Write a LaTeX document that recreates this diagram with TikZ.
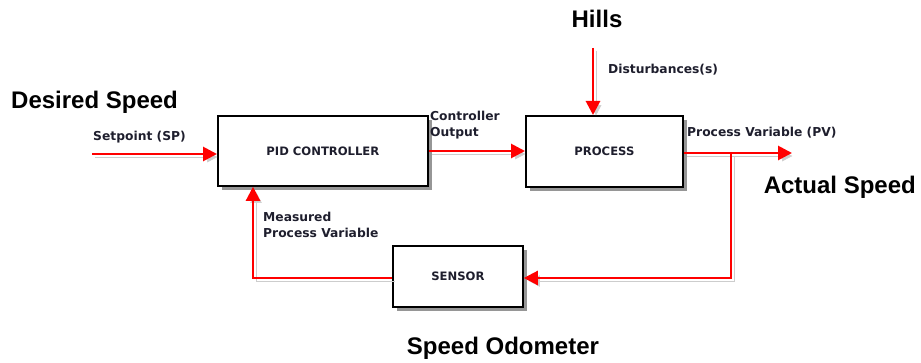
\documentclass[tikz,border=0pt]{standalone}
\usepackage{fontspec}
\setmainfont{DejaVu Sans}
\newfontfamily\bigfont{Liberation Sans}
\usetikzlibrary{arrows.meta}
\definecolor{labelink}{RGB}{30,30,45}
\definecolor{shadowgray}{RGB}{150,150,150}
\definecolor{flowshadow}{RGB}{205,205,205}
\tikzset{
  blockbox/.style={draw=black, line width=1.8pt, fill=white, anchor=north west,
    inner sep=0pt, font=\bfseries\fontsize{11.6}{14}\selectfont, text=labelink},
  blockshadow/.style={fill=shadowgray, draw=none},
  flow/.style={draw=red, line width=2.8pt, -{Triangle[length=14pt,width=14pt]},
    preaction={draw=flowshadow, transform canvas={shift={(3pt,-3pt)}}}},
  smalllabel/.style={font=\bfseries\fontsize{12.3}{16}\selectfont, text=labelink, inner sep=0pt, anchor=west, align=left},
  biglabel/.style={font=\bigfont\bfseries\fontsize{24}{28}\selectfont, text=black, inner sep=0pt},
}
\begin{document}
\begin{tikzpicture}[x=1pt,y=-1pt]
  \useasboundingbox (0,0) rectangle (921,363);
  % block shadows
  \fill[blockshadow] (222,120) rectangle (432,190);
  \fill[blockshadow] (530,120) rectangle (687,191);
  \fill[blockshadow] (397,250) rectangle (527,311);
  % blocks
  \node[blockbox, minimum width=210pt, minimum height=70pt] (pid) at (217,115) {PID CONTROLLER};
  \node[blockbox, minimum width=157pt, minimum height=71pt] (proc) at (525,115) {PROCESS};
  \node[blockbox, minimum width=130pt, minimum height=61pt] (sens) at (392,245) {SENSOR};
  % free ends and corners
  \coordinate (spin) at (92,154);
  \coordinate (dist) at (593,48);
  \coordinate (pvout) at (792,153);
  \coordinate (tap) at (731,153);
  \coordinate (tapdown) at (731,278);
  \coordinate (fbcorner) at (253,278);
  % signal connectors
  \draw[flow] (spin) -- (spin -| pid.west);
  \draw[flow] (pid.east |- 0,151) -- (proc.west |- 0,151);
  \draw[flow] (dist) -- (dist |- proc.north);
  \draw[flow] (proc.east |- pvout) -- (pvout);
  \draw[flow, line width=2.3pt] (tap) -- (tapdown) -- (tapdown -| sens.east);
  \draw[flow, line width=2.3pt] (sens.west |- fbcorner) -- (fbcorner) -- (fbcorner |- pid.south);
  % signal labels
  \node[smalllabel] (lsp) at (93,137) {Setpoint (SP)};
  \node[smalllabel] (lco) at (430,125) {Controller\\Output};
  \node[smalllabel] (ldist) at (608,70) {Disturbances(s)};
  \node[smalllabel] (lpv) at (687,133) {Process Variable (PV)};
  \node[smalllabel] (lmpv) at (263,225) {Measured\\Process Variable};
  % headline labels
  \node[biglabel, anchor=west] (desired) at (11,102) {Desired Speed};
  \node[biglabel] (hills) at (597,19) {Hills};
  \node[biglabel, anchor=east] (actual) at (916,187) {Actual Speed};
  \node[biglabel] (odo) at (503,348) {Speed Odometer};
\end{tikzpicture}
\end{document}
